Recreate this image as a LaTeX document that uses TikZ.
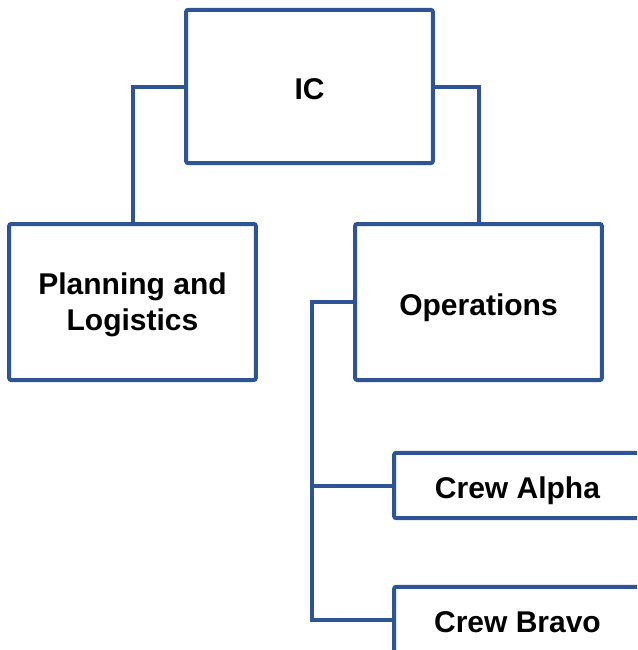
\documentclass[tikz,border=0pt]{standalone}
\usepackage{fontspec}
\setmainfont{Liberation Sans}
\definecolor{orgblue}{RGB}{46,84,150}
\tikzset{
  box/.style={draw=orgblue, line width=3pt, rounded corners=1.5pt, fill=white,
    minimum width=185pt, align=center, font=\fontsize{22.5}{27}\selectfont\bfseries},
  oneline/.style={text height=20pt, text depth=0pt},
  link/.style={draw=orgblue, line width=3pt}
}
\begin{document}
\begin{tikzpicture}[x=0.75pt, y=-0.75pt]
\useasboundingbox (0,0) rectangle (637,650);
\clip (0,0) rectangle (637,650);
\node[box, oneline, minimum height=115pt] (ic) at (309.5,86.5) {IC};
\node[box, text depth=0pt, minimum height=117pt] (plan) at (132.5,302) {Planning and\\Logistics};
\node[box, oneline, minimum height=117pt] (ops) at (478.5,302) {Operations};
\node[box, oneline, minimum height=49pt] (alpha) at (517.5,485.5) {Crew Alpha};
\node[box, oneline, minimum height=49pt] (bravo) at (517.5,619.5) {Crew Bravo};
\draw[link] (ic.west) -| (plan.north);
\draw[link] (ic.east) -| (ops.north);
\draw[link] (ops.west) -- ++(-41,0) coordinate (spine) |- (bravo.west);
\draw[link] (spine |- alpha.west) -- (alpha.west);
\end{tikzpicture}
\end{document}
